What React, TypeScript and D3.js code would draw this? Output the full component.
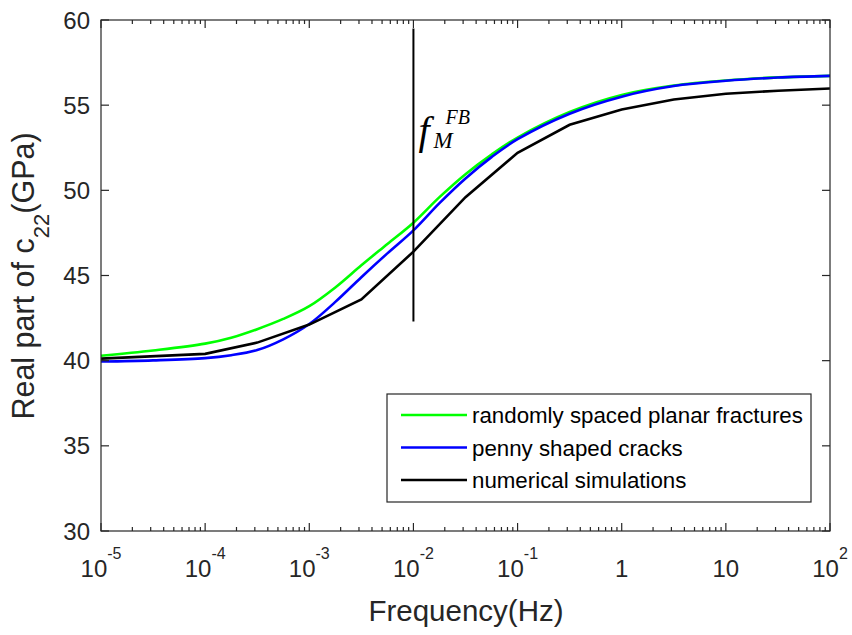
import React from 'react';
import * as d3 from 'd3';

// frequency exponents (log10 Hz)
const curveExps = [-5, -4.5, -4, -3.75, -3.5, -3.25, -3, -2.75, -2.5, -2.25, -2, -1.75, -1.5, -1.25, -1, -0.5, 0, 0.5, 1, 1.5, 2];
const planarValues = [40.29, 40.6, 41.0, 41.35, 41.85, 42.45, 43.2, 44.3, 45.6, 46.85, 48.1, 49.6, 50.95, 52.1, 53.1, 54.6, 55.6, 56.15, 56.45, 56.63, 56.72];
const pennyValues = [39.95, 40.02, 40.15, 40.32, 40.62, 41.25, 42.15, 43.45, 44.9, 46.3, 47.65, 49.25, 50.7, 51.95, 53.0, 54.5, 55.5, 56.12, 56.43, 56.62, 56.72];

const simExps = [-5, -4, -3.5, -3, -2.5, -2, -1.5, -1, -0.5, 0, 0.5, 1, 1.5, 2];
const simValues = [40.12, 40.4, 41.06, 42.12, 43.6, 46.4, 49.6, 52.2, 53.85, 54.75, 55.33, 55.67, 55.85, 55.98];

const yTicks = [30, 35, 40, 45, 50, 55, 60];
const xTickExps = [-5, -4, -3, -2, -1, 0, 1, 2];
const xTickLabels = [
  ['10', '-5'],
  ['10', '-4'],
  ['10', '-3'],
  ['10', '-2'],
  ['10', '-1'],
  ['1', ''],
  ['10', ''],
  ['10', '2']
];

const markerFreq = 1e-2;
const markerRange = [42.3, 59.5];

const legendItems = [
  { label: 'randomly spaced planar fractures', color: '#00ff00' },
  { label: 'penny shaped cracks', color: '#0000ff' },
  { label: 'numerical simulations', color: '#000000' }
];

const W = 852;
const H = 635;
const margin = { left: 101, right: 22, top: 20, bottom: 104 };
const axisColor = '#262626';
const sans = '"Liberation Sans", Arial, sans-serif';
const serif = '"Liberation Serif", "Times New Roman", serif';

export default function App() {
  const x = d3
    .scaleLog()
    .domain([1e-5, 1e2])
    .range([margin.left, W - margin.right]);
  const y = d3
    .scaleLinear()
    .domain([30, 60])
    .range([H - margin.bottom, margin.top]);

  const x0 = margin.left;
  const x1 = W - margin.right;
  const y0 = H - margin.bottom;
  const y1 = margin.top;

  const smooth = d3
    .line<[number, number]>()
    .x(d => x(Math.pow(10, d[0])))
    .y(d => y(d[1]))
    .curve(d3.curveCatmullRom.alpha(0.5));
  const straight = d3
    .line<[number, number]>()
    .x(d => x(Math.pow(10, d[0])))
    .y(d => y(d[1]));

  const planar = smooth(curveExps.map((e, i) => [e, planarValues[i]]));
  const penny = smooth(curveExps.map((e, i) => [e, pennyValues[i]]));
  const sim = straight(simExps.map((e, i) => [e, simValues[i]]));

  // minor ticks 2..9 in each decade
  const minor: number[] = [];
  for (let e = -5; e < 2; e++) {
    for (let k = 2; k <= 9; k++) minor.push(k * Math.pow(10, e));
  }

  const legend = { x: 387, y: 394, w: 424, h: 108 };
  const mx = x(markerFreq);

  return (
    <svg
      width={W}
      height={H}
      style={{ position: 'absolute', left: 0, top: 0, background: '#fff' }}
    >
      <rect x={0} y={0} width={W} height={H} fill="#fff" />

      <path d={planar || ''} fill="none" stroke="#00ff00" strokeWidth={2.6} />
      <path d={penny || ''} fill="none" stroke="#0000ff" strokeWidth={2.6} />
      <path d={sim || ''} fill="none" stroke="#000" strokeWidth={2.6} />

      <line
        x1={mx}
        x2={mx}
        y1={y(markerRange[0])}
        y2={y(markerRange[1])}
        stroke="#000"
        strokeWidth={2}
      />
      <text x={mx + 5} y={144} fontFamily={serif} fontStyle="italic" fontSize={40} fill="#000">
        f
      </text>
      <text x={mx + 20} y={148} fontFamily={serif} fontStyle="italic" fontSize={23} fill="#000">
        M
      </text>
      <text x={mx + 32} y={124} fontFamily={serif} fontStyle="italic" fontSize={20} fill="#000">
        FB
      </text>

      {/* axes box */}
      <rect
        x={x0}
        y={y1}
        width={x1 - x0}
        height={y0 - y1}
        fill="none"
        stroke={axisColor}
        strokeWidth={1.2}
      />

      {yTicks.map(t => (
        <g key={'y' + t}>
          <line x1={x0} x2={x0 + 8} y1={y(t)} y2={y(t)} stroke={axisColor} strokeWidth={1.2} />
          <line x1={x1} x2={x1 - 8} y1={y(t)} y2={y(t)} stroke={axisColor} strokeWidth={1.2} />
          <text
            x={x0 - 11}
            y={y(t) + 8.5}
            textAnchor="end"
            fontFamily={sans}
            fontSize={24}
            fill={axisColor}
          >
            {t}
          </text>
        </g>
      ))}

      {xTickExps.map((e, i) => {
        const px = x(Math.pow(10, e));
        const [base, sup] = xTickLabels[i];
        return (
          <g key={'x' + e}>
            <line x1={px} x2={px} y1={y0} y2={y0 - 8} stroke={axisColor} strokeWidth={1.2} />
            <line x1={px} x2={px} y1={y1} y2={y1 + 8} stroke={axisColor} strokeWidth={1.2} />
            <text
              x={px}
              y={577}
              textAnchor="middle"
              fontFamily={sans}
              fontSize={24}
              fill={axisColor}
            >
              {base}
              {sup && (
                <tspan fontSize={16} dy={-18}>
                  {sup}
                </tspan>
              )}
            </text>
          </g>
        );
      })}

      {minor.map((m, i) => (
        <g key={'m' + i}>
          <line x1={x(m)} x2={x(m)} y1={y0} y2={y0 - 4} stroke={axisColor} strokeWidth={1.2} />
          <line x1={x(m)} x2={x(m)} y1={y1} y2={y1 + 4} stroke={axisColor} strokeWidth={1.2} />
        </g>
      ))}

      <text
        x={466}
        y={621}
        textAnchor="middle"
        fontFamily={sans}
        fontSize={29.5}
        fill={axisColor}
      >
        Frequency(Hz)
      </text>

      <text
        transform="translate(34, 276) rotate(-90)"
        textAnchor="middle"
        fontFamily={sans}
        fontSize={30.5}
        fill={axisColor}
      >
        Real part of c
        <tspan fontSize={22} dy={15}>
          22
        </tspan>
        <tspan dy={-15}>(GPa)</tspan>
      </text>

      {/* legend */}
      <rect
        x={legend.x}
        y={legend.y}
        width={legend.w}
        height={legend.h}
        fill="#fff"
        stroke={axisColor}
        strokeWidth={1.2}
      />
      {legendItems.map((it, i) => {
        const ly = 415 + i * 32.5;
        return (
          <g key={it.label}>
            <line x1={401} x2={467} y1={ly} y2={ly} stroke={it.color} strokeWidth={2.6} />
            <text x={472} y={ly + 8} fontFamily={sans} fontSize={22.3} fill="#000">
              {it.label}
            </text>
          </g>
        );
      })}
    </svg>
  );
}
